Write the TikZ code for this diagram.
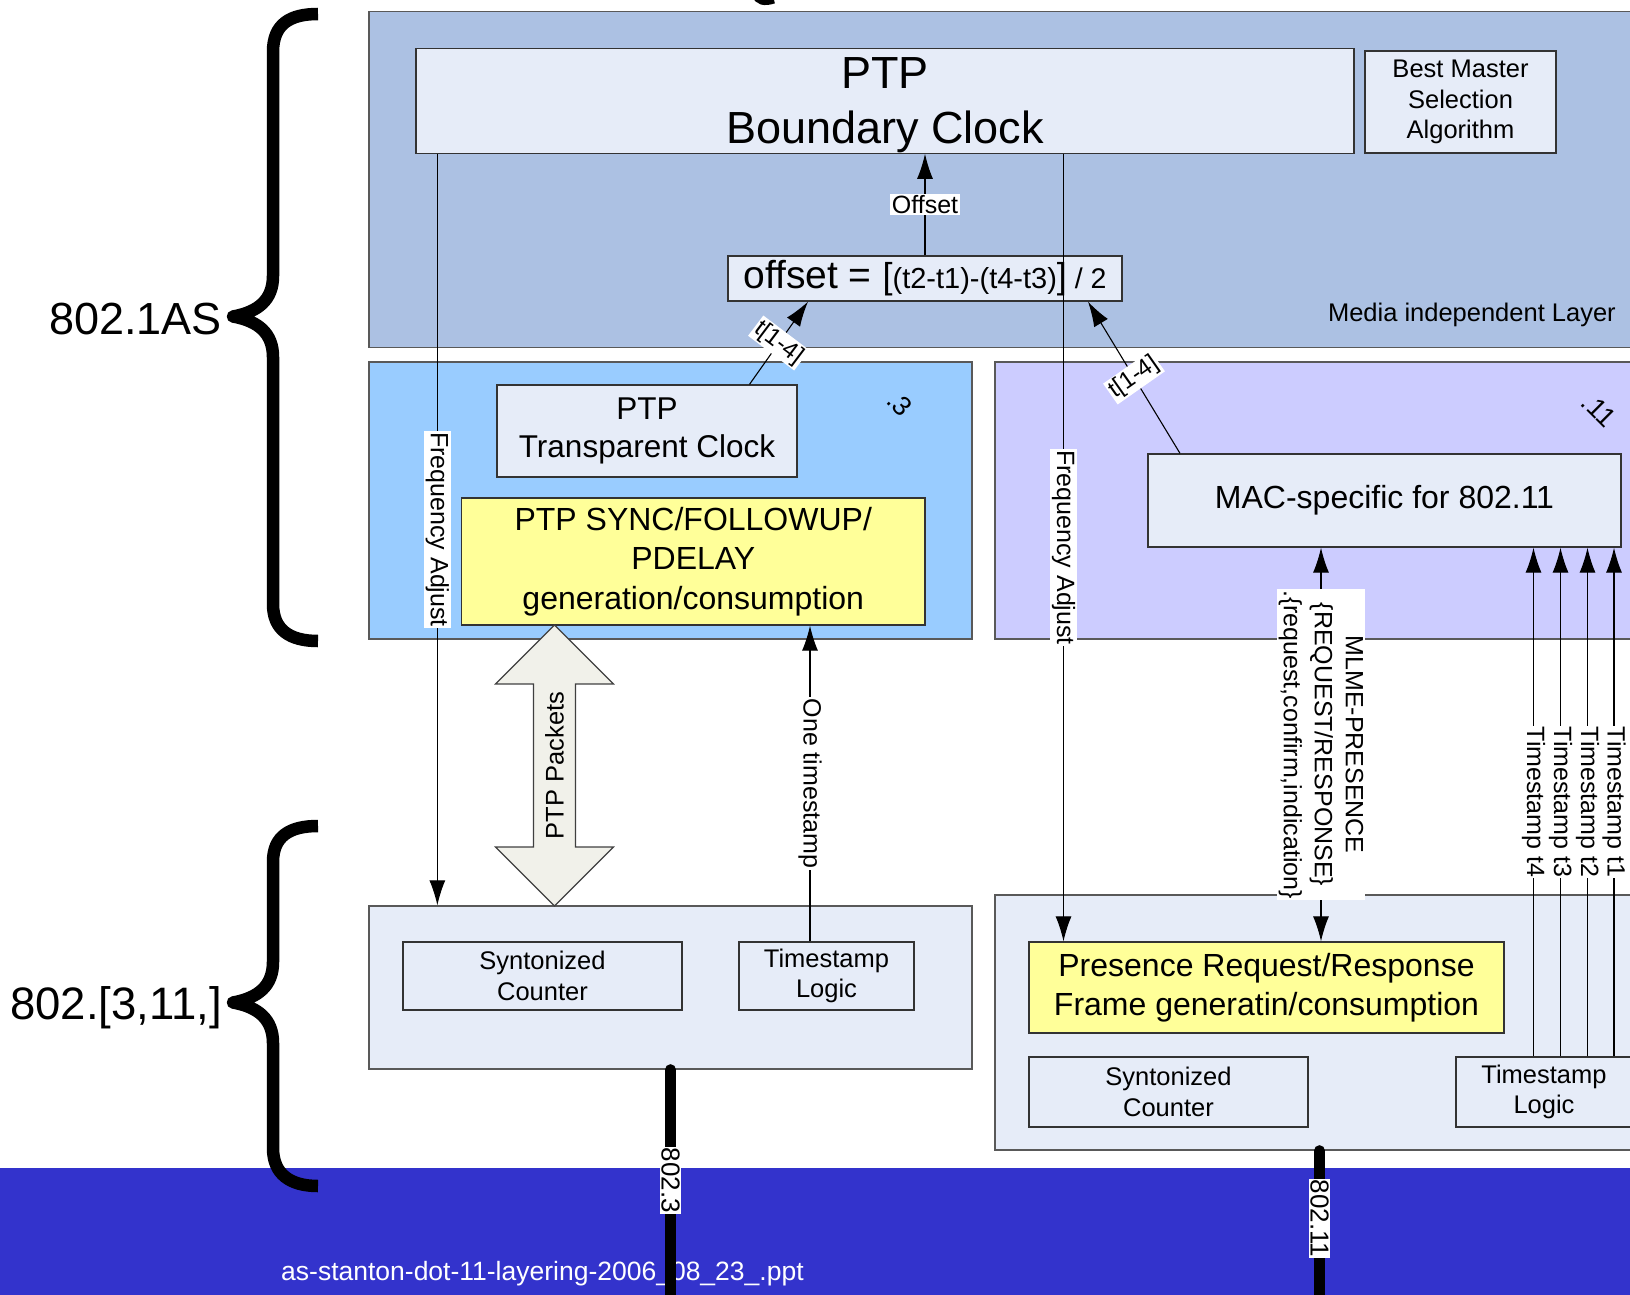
\documentclass[tikz,border=0pt]{standalone}
\usepackage{fontspec}
\setmainfont{Liberation Sans}
\usetikzlibrary{arrows.meta,shapes.arrows}

\definecolor{milblue}{RGB}{172,193,227}
\definecolor{boxfill}{RGB}{230,236,248}
\definecolor{dotthree}{RGB}{153,204,255}
\definecolor{doteleven}{RGB}{204,204,255}
\definecolor{ptpyellow}{RGB}{255,255,153}
\definecolor{busblue}{RGB}{51,51,204}
\definecolor{pktfill}{RGB}{241,241,234}

\newcommand{\fsz}[2]{\fontsize{#1pt}{#2pt}\selectfont}

\tikzset{
  lyr/.style={draw=black!65, line width=1.3pt, inner sep=0pt},
  blk/.style={draw=black!80, line width=1.3pt, fill=boxfill, inner sep=0pt, align=center, font=\fsz{25.5}{30.5}},
  sig/.style={line width=1.1pt, -{Latex[length=25pt,width=16pt]}},
  dsig/.style={line width=1.1pt, {Latex[length=25pt,width=16pt]}-{Latex[length=25pt,width=16pt]}},
  lbl/.style={fill=white, inner sep=1.5pt, font=\fsz{25}{31}},
  bus/.style={line width=11pt, line cap=round},
  brc/.style={line width=12.5pt, line join=round},
}

\begin{document}
\begin{tikzpicture}[x=1pt, y=-1pt]
\useasboundingbox (0,0) rectangle (1630,1295);
\clip (0,0) rectangle (1630,1295);

% Layers
\node[lyr, fill=milblue, minimum width=1272pt, minimum height=336pt] (mil) at (1005,179.5) {};
\node[lyr, fill=dotthree, minimum width=603pt, minimum height=277pt] (d3) at (670.5,500.5) {};
\node[lyr, fill=doteleven, minimum width=645pt, minimum height=277pt] (d11) at (1317.5,500.5) {};
\node[lyr, fill=boxfill, minimum width=603pt, minimum height=163pt] (p3) at (670.5,987.5) {};
\node[lyr, fill=boxfill, minimum width=645pt, minimum height=255pt] (p11) at (1317.5,1022.5) {};
\fill[busblue] (0,1167.5) rectangle (1630,1295);

% Media independent layer
\node[blk, minimum width=938pt, minimum height=104pt, font=\fsz{45}{55}] (bc) at (885,101) {\rule{0pt}{40pt}PTP\\Boundary Clock};
\node[blk, minimum width=191pt, minimum height=102pt] (bmsa) at (1460.5,102) {Best Master\\Selection\\Algorithm};
\node[blk, minimum width=394pt, minimum height=45pt] (ofs) at (925,278.5)
  {\fsz{39}{40}offset = \fsz{36}{40}[\fsz{29}{40}(t2-t1)-(t4-t3)\fsz{36}{40}]\fsz{28.5}{40} / 2};
\node[font=\fsz{25.5}{30}, anchor=east, inner sep=0pt] (milname) at (1616,315) {Media independent Layer};

% 802.3 and 802.11 MAC parts
\node[blk, minimum width=300pt, minimum height=92pt, font=\fsz{31.5}{38.5}] (tc) at (647,431) {PTP\\Transparent Clock};
\node[blk, fill=ptpyellow, minimum width=463.5pt, minimum height=127pt, font=\fsz{32}{39.5}] (sync) at (693.25,561.5)
  {PTP SYNC/FOLLOWUP/\\PDELAY\\generation/consumption};
\node[blk, minimum width=473pt, minimum height=93pt, font=\fsz{32}{38}] (mac) at (1384.5,500.5) {MAC-specific for 802.11};
\node[font=\fsz{27}{30}, rotate=-45, inner sep=0pt] (n3) at (900,404) {.3};
\node[font=\fsz{27}{30}, rotate=-45, inner sep=0pt] (n11) at (1599,410) {.11};

% PHY parts
\node[blk, minimum width=279pt, minimum height=68pt] (sc3) at (542.5,976) {Syntonized\\Counter};
\node[blk, minimum width=175pt, minimum height=68pt] (tl3) at (826.5,976) {Timestamp\\Logic};
\node[blk, fill=ptpyellow, minimum width=475pt, minimum height=91pt, font=\fsz{32}{39.5}] (pres) at (1266.5,987.5)
  {Presence Request/Response\\Frame generatin/consumption};
\node[blk, minimum width=279pt, minimum height=70pt] (sc11) at (1168.5,1092) {Syntonized\\Counter};
\node[blk, minimum width=176pt, minimum height=70pt] (tl11) at (1544,1092) {Timestamp\\Logic};

% Signals
\draw[sig] (ofs.north) -- (ofs.north |- bc.south) node[lbl, midway] {Offset};
\draw[sig] ([xshift=102.5pt]tc.north) -- ([xshift=-117pt]ofs.south) node[lbl, midway, rotate=-37, font=\fsz{24}{28}] {t[1-4]};
\draw[sig] ([xshift=-204.5pt]mac.north) -- ([xshift=163pt]ofs.south) node[lbl, midway, rotate=35, font=\fsz{24}{28}] {t[1-4]};
\draw[sig] ([xshift=22pt]bc.south west) -- ([xshift=22pt]bc.south west |- p3.north) node[lbl, midway, rotate=-90] {Frequency Adjust};
\draw[sig] ([xshift=178.5pt]bc.south) -- ([xshift=178.5pt]bc.south |- pres.north) node[lbl, midway, rotate=-90] {Frequency Adjust};
\node[double arrow, draw=black!75, line width=1.2pt, fill=pktfill, rotate=90, minimum height=281pt, inner xsep=0pt, inner ysep=11pt,
  double arrow head extend=38pt, font=\fsz{25.5}{30}] (pkts) at (554.5,765.5) {PTP Packets};
\draw[sig] ([xshift=-16.5pt]tl3.north) -- ([xshift=-16.5pt]tl3.north |- sync.south) node[lbl, midway, rotate=-90] {One timestamp};
\draw[dsig] ([xshift=54.5pt]pres.north) -- ([xshift=54.5pt]pres.north |- mac.south)
  node[lbl, midway, rotate=-90, align=center] {MLME-PRESENCE\\\{REQUEST/RESPONSE\}\\.\{request,confirm,indication\}};
\foreach \dx/\tn in {-10.5/4, 16.5/3, 43.5/2, 70/1}
  \draw[sig] ([xshift=\dx pt]tl11.north) -- ([xshift=\dx pt]tl11.north |- mac.south)
    node[lbl, midway, rotate=-90, inner sep=1pt] {Timestamp t\tn};

% Media
\node[text=white, font=\fsz{26.5}{30}, anchor=base west, inner sep=0pt] (fname) at (281,1280) {as-stanton-dot-11-layering-2006\_08\_23\_.ppt};
\coordinate (b3) at (670.5,1305);
\coordinate (b11) at (1319.5,1305);
\draw[bus] (p3.south) -- (b3) node[lbl, pos=0.47, rotate=-90, inner sep=1pt, font=\fsz{26}{30}] {802.3};
\draw[bus] ([xshift=2pt]p11.south) -- (b11) node[lbl, pos=0.44, rotate=-90, inner sep=1pt, font=\fsz{26}{30}] {802.11};

% Braces
\draw[brc] (318,14) .. controls (290,14) and (273,24) .. (273,52) -- (273,276)
  .. controls (273,300) and (258,312) .. (233,316.5) .. controls (258,321) and (273,333) .. (273,357)
  -- (273,604) .. controls (273,630) and (290,641) .. (318,641);
\draw[brc] (318,826) .. controls (290,826) and (273,836) .. (273,862) -- (273,962)
  .. controls (273,986) and (258,998) .. (233,1002.5) .. controls (258,1007) and (273,1019) .. (273,1043)
  -- (273,1148) .. controls (273,1174) and (290,1186) .. (318,1186);
\draw[line width=7pt] (755,-6) .. controls (758,2) and (764,3) .. (774,0);
\node[font=\fsz{45}{50}, anchor=base east, inner sep=0pt] (as) at (222,334) {802.1AS};
\node[font=\fsz{45.5}{50}, anchor=base east, inner sep=0pt] (phy) at (222,1019) {802.[3,11,]};
\end{tikzpicture}
\end{document}
